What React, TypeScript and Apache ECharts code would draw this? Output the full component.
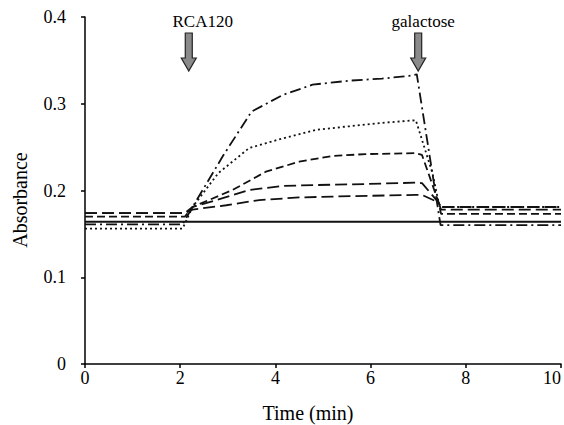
import React, { useEffect, useRef } from "react";
import * as echarts from "echarts";

const solidX = [0, 2.2, 7.5, 10];
const solidY = [0.164, 0.164, 0.164, 0.164];

const dashDotX = [0, 2.05, 2.26, 2.9, 3.5, 4.15, 4.78, 5.55, 6.24, 6.8, 6.97, 7.47, 10];
const dashDotY = [0.161, 0.161, 0.181, 0.24, 0.291, 0.31, 0.322, 0.3266, 0.329, 0.332, 0.334, 0.16, 0.16];

const dottedX = [0, 2.05, 2.26, 2.8, 3.45, 4.15, 4.86, 5.55, 6.24, 6.95, 7.3, 7.43, 7.48, 10];
const dottedY = [0.156, 0.156, 0.181, 0.22, 0.249, 0.26, 0.27, 0.274, 0.278, 0.281, 0.22, 0.186, 0.181, 0.181];

const dashAX = [0, 2.1, 2.26, 3.1, 3.8, 4.5, 5.2, 5.9, 6.95, 7.08, 7.43, 7.48, 10];
const dashAY = [0.17, 0.17, 0.181, 0.2006, 0.2217, 0.2332, 0.2398, 0.242, 0.243, 0.241, 0.186, 0.173, 0.173];

const dashBX = [0, 2.1, 2.26, 2.76, 3.45, 4.15, 4.86, 5.9, 6.95, 7.08, 7.43, 7.48, 10];
const dashBY = [0.174, 0.174, 0.181, 0.189, 0.2006, 0.2052, 0.2063, 0.2075, 0.209, 0.2085, 0.186, 0.181, 0.181];

const dashCX = [0, 2.1, 2.26, 2.97, 3.66, 4.5, 5.2, 6.95, 7.08, 7.43, 7.48, 10];
const dashCY = [0.174, 0.174, 0.178, 0.183, 0.189, 0.192, 0.193, 0.195, 0.195, 0.186, 0.178, 0.178];

const arrowTimes = [2.18, 7.0];
const arrowLabels = ["RCA120", "galactose"];

const FONT = "Liberation Serif";

function pairs(xs: number[], ys: number[]) {
  return xs.map((x, i) => [x, ys[i]]);
}

export default function App() {
  const ref = useRef<HTMLDivElement>(null);
  useEffect(() => {
    if (!ref.current) return;
    const chart = echarts.init(ref.current, undefined, { renderer: "svg" });
    const mk = (name: string, xs: number[], ys: number[], type: any, width: number) => ({
      name,
      type: "line",
      data: pairs(xs, ys),
      showSymbol: false,
      symbol: "none",
      lineStyle: { color: "#111", width, type },
      z: 3,
    });
    chart.setOption({
      animation: false,
      backgroundColor: "#fff",
      textStyle: { fontFamily: FONT },
      grid: { left: 85, right: 2, top: 17, bottom: 61 },
      xAxis: {
        type: "value",
        min: 0,
        max: 10,
        interval: 2,
        axisLine: { lineStyle: { color: "#000", width: 1.5 } },
        axisTick: { show: true, length: 4, lineStyle: { color: "#000", width: 1.5 } },
        axisLabel: {
          color: "#000",
          fontSize: 18,
          fontFamily: FONT,
          margin: 5,
          alignMaxLabel: "right",
        },
        splitLine: { show: false },
      },
      yAxis: {
        type: "value",
        min: 0,
        max: 0.4,
        interval: 0.1,
        axisLine: { show: true, lineStyle: { color: "#000", width: 1.5 } },
        axisTick: { show: true, length: 4, lineStyle: { color: "#000", width: 1.5 } },
        axisLabel: {
          color: "#000",
          fontSize: 18,
          fontFamily: FONT,
          margin: 19,
        },
        splitLine: { show: false },
      },
      series: [
        mk("solid", solidX, solidY, "solid", 1.8),
        mk("dashdot", dashDotX, dashDotY, [11, 4, 2, 4], 1.8),
        mk("dotted", dottedX, dottedY, [2, 3], 1.8),
        mk("dashA", dashAX, dashAY, [8, 4], 1.8),
        mk("dashB", dashBX, dashBY, [12, 5], 1.8),
        mk("dashC", dashCX, dashCY, [12, 5], 1.8),
      ],
    });

    const graphics: any[] = [
      {
        type: "text",
        x: 20,
        y: 200,
        rotation: Math.PI / 2,
        style: {
          text: "Absorbance",
          fill: "#000",
          fontSize: 20,
          fontFamily: FONT,
          align: "center",
          verticalAlign: "middle",
        },
      },
      {
        type: "text",
        x: 308,
        y: 413,
        style: {
          text: "Time (min)",
          fill: "#000",
          fontSize: 20,
          fontFamily: FONT,
          align: "center",
          verticalAlign: "middle",
        },
      },
    ];
    const textOffsets = [14, 5];
    arrowTimes.forEach((t, i) => {
      const cx = chart.convertToPixel({ xAxisIndex: 0 }, t) as number;
      graphics.push({
        type: "polygon",
        shape: {
          points: [
            [cx - 3.5, 33],
            [cx + 3.5, 33],
            [cx + 3.5, 58],
            [cx + 7.5, 58],
            [cx, 71],
            [cx - 7.5, 58],
            [cx - 3.5, 58],
          ],
        },
        style: { fill: "#8a8a8a", stroke: "#222", lineWidth: 1.2 },
        z: 10,
      });
      graphics.push({
        type: "text",
        x: cx + textOffsets[i],
        y: 21,
        style: {
          text: arrowLabels[i],
          fill: "#000",
          fontSize: 17,
          fontFamily: FONT,
          align: "center",
          verticalAlign: "middle",
        },
        z: 10,
      });
    });
    chart.setOption({ graphic: graphics });
    return () => chart.dispose();
  }, []);
  return (
    <div
      ref={ref}
      style={{ position: "fixed", left: 0, top: 0, width: 564, height: 425, background: "#fff" }}
    />
  );
}
